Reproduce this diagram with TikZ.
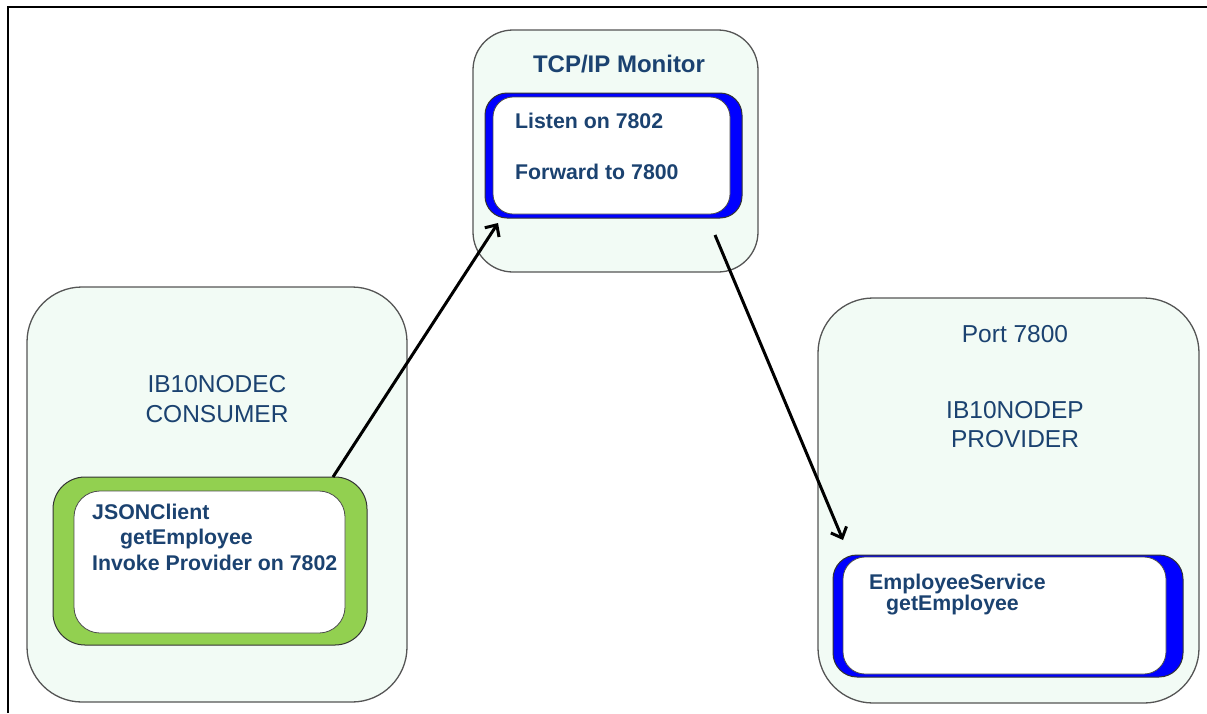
\documentclass[tikz,border=0pt]{standalone}
\usepackage{fontspec}
\setmainfont{Liberation Sans}
\usetikzlibrary{arrows.meta}
\definecolor{txtblue}{RGB}{27,66,112}
\definecolor{panelfill}{RGB}{242,251,245}
\definecolor{panelline}{RGB}{85,85,85}
\definecolor{leafgreen}{RGB}{146,208,80}
\definecolor{pureblue}{RGB}{0,0,255}
\begin{document}
\begin{tikzpicture}[x=1pt,y=-1pt,
  panel/.style={draw=panelline, line width=1.3pt, fill=panelfill, rounded corners=#1, inner sep=0pt},
  rim/.style={draw=black!80, line width=1pt, fill=#1, inner sep=0pt},
  core/.style={draw=black!70, line width=0.8pt, fill=white, inner sep=0pt, rounded corners=#1},
  bigtext/.style={text=txtblue, font=\fontsize{24.5}{28}\selectfont, inner sep=0pt},
  boldtext/.style={text=txtblue, font=\fontsize{21.3}{25}\selectfont\bfseries, inner sep=0pt},
  titletext/.style={text=txtblue, font=\fontsize{24}{28}\selectfont\bfseries, inner sep=0pt},
  flow/.style={line width=3pt, -{Straight Barb[length=9pt,width=17pt,line width=3pt]}}
]
\useasboundingbox (0,0) rectangle (1207,713);

% page frame (left and top edges only)
\draw[line width=2.5pt] (8,713) -- (8,7) -- (1207,7);

% TCP/IP monitor
\node[panel=40pt, minimum width=285pt, minimum height=242pt] (monitor) at (615.5,151) {};
\node[rim=pureblue, rounded corners=22pt, minimum width=257pt, minimum height=125pt] (monrim) at (613.5,155.5) {};
\node[core=20pt, minimum width=237pt, minimum height=117pt] (moncore) at (611.5,155.5) {};
\node[titletext, anchor=base] (montitle) at (619,72) {TCP/IP Monitor};
\node[boldtext, anchor=base west] (listen) at (515,128) {Listen on 7802};
\node[boldtext, anchor=base west] (forward) at (515,179) {Forward to 7800};

% consumer node
\node[panel=55pt, minimum width=380pt, minimum height=415pt] (consumer) at (217,494.5) {};
\node[bigtext, anchor=base] (consname) at (217,392) {IB10NODEC};
\node[bigtext, anchor=base] (consrole) at (217,422) {CONSUMER};
\node[rim=leafgreen, rounded corners=32pt, minimum width=314pt, minimum height=168pt] (client) at (210,561) {};
\node[core=26pt, minimum width=271pt, minimum height=142pt] (clientcore) at (209.5,562) {};
\node[boldtext, anchor=base west] (cl1) at (92,519) {JSONClient};
\node[boldtext, anchor=base west] (cl2) at (120,544) {getEmployee};
\node[boldtext, anchor=base west] (cl3) at (92,570) {Invoke Provider on 7802};

% provider node
\node[panel=55pt, minimum width=381pt, minimum height=405pt] (provider) at (1008.5,500.5) {};
\node[bigtext, anchor=base] (port) at (1015,342) {Port 7800};
\node[bigtext, anchor=base] (provname) at (1015,418) {IB10NODEP};
\node[bigtext, anchor=base] (provrole) at (1015,447) {PROVIDER};
\node[rim=pureblue, rounded corners=24pt, minimum width=350pt, minimum height=122pt] (service) at (1008,616) {};
\node[core=22pt, minimum width=323pt, minimum height=117pt] (servicecore) at (1004.5,615.5) {};
\node[boldtext, anchor=base west] (sv1) at (869,589) {EmployeeService};
\node[boldtext, anchor=base west] (sv2) at (886,610) {getEmployee};

% request path
\coordinate (reqout) at (333,477);
\coordinate (reqin) at (498,223);
\coordinate (fwdout) at (715,235);
\coordinate (fwdin) at (843,540);
\draw[flow] (reqout) -- (reqin);
\draw[flow] (fwdout) -- (fwdin);
\end{tikzpicture}
\end{document}
